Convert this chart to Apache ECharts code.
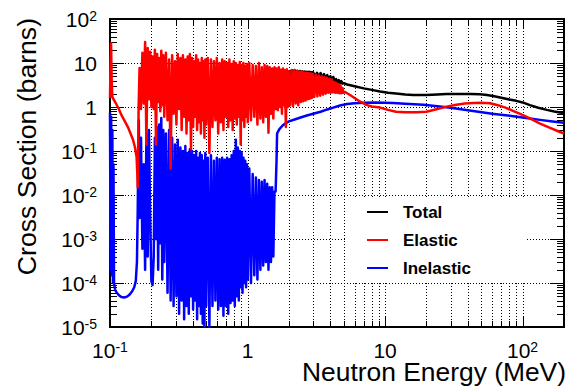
<!DOCTYPE html>
<html>
<head>
<meta charset="utf-8">
<script src="https://cdn.jsdelivr.net/npm/echarts@6/dist/echarts.min.js"></script>
<style>
  html, body { margin: 0; padding: 0; background: #fff; }
  #chart { width: 569px; height: 387px; }
</style>
</head>
<body>
<div id="chart"></div>
<script>
// Neutron cross sections, energy in MeV, cross section in barns.

// Elastic: threshold region below the first big resonances
const elasticLow = [
  [0.1, 1.6], [0.1008, 8], [0.1018, 28], [0.1028, 4], [0.104, 1.7], [0.106, 1.5],
  [0.109, 1.3], [0.115, 0.95], [0.121, 0.66], [0.128, 0.48], [0.135, 0.35],
  [0.141, 0.25], [0.147, 0.18], [0.152, 0.12], [0.156, 0.075], [0.158, 0.03],
  [0.159, 0.015], [0.1615, 1.0]
];

// Elastic: resolved resonance region
const elasticResonances = [
  [0.164, 7.7], [0.168, 0.9], [0.172, 17], [0.176, 1.2], [0.18, 30], [0.184, 0.14],
  [0.188, 22], [0.192, 1.5], [0.196, 18], [0.2, 1.0], [0.204, 14], [0.208, 0.9],
  [0.212, 20], [0.216, 0.14], [0.22, 16], [0.224, 1.3], [0.228, 13], [0.232, 0.8],
  [0.236, 19], [0.24, 1.1], [0.244, 15], [0.248, 0.6],
  [0.255, 17], [0.262, 0.5], [0.269, 12], [0.276, 0.04], [0.283, 15], [0.29, 0.7],
  [0.297, 11], [0.304, 0.4], [0.311, 16], [0.318, 0.9], [0.325, 13], [0.332, 0.3],
  [0.339, 15], [0.346, 0.6], [0.353, 12], [0.36, 0.25], [0.367, 14], [0.374, 0.5],
  [0.381, 16], [0.388, 0.11], [0.395, 13], [0.402, 0.35], [0.409, 11], [0.416, 0.6],
  [0.423, 15], [0.43, 0.3], [0.437, 12], [0.444, 0.45], [0.451, 10], [0.458, 0.25],
  [0.465, 13], [0.472, 0.5], [0.479, 11], [0.486, 0.2], [0.493, 12], [0.5, 0.4],
  [0.514, 13], [0.528, 0.09], [0.542, 12], [0.556, 0.35], [0.57, 11], [0.584, 0.5],
  [0.598, 13], [0.612, 0.25], [0.626, 10], [0.64, 0.45], [0.654, 12], [0.668, 0.3],
  [0.682, 11], [0.696, 0.6], [0.71, 10], [0.724, 0.35], [0.738, 12], [0.752, 0.5],
  [0.766, 9.5], [0.78, 0.3], [0.794, 11], [0.808, 0.55], [0.822, 10], [0.836, 0.4],
  [0.85, 9], [0.864, 0.6], [0.878, 10.5], [0.892, 0.14], [0.906, 9], [0.92, 0.5],
  [0.934, 10], [0.948, 0.35], [0.962, 8.5], [0.976, 0.6], [0.99, 9.5], [1.004, 0.45],
  [1.03, 10], [1.06, 0.5], [1.09, 9], [1.12, 0.6], [1.15, 8.5], [1.18, 0.4],
  [1.21, 10], [1.24, 0.55], [1.27, 8], [1.3, 0.45], [1.33, 9], [1.36, 0.6],
  [1.39, 8.5], [1.42, 0.26], [1.45, 8], [1.48, 0.7], [1.51, 7.5], [1.54, 0.55],
  [1.57, 8], [1.6, 0.9],
  [1.63, 7.5], [1.66, 0.85], [1.69, 8], [1.72, 1.0], [1.75, 7], [1.78, 0.7],
  [1.81, 7.5], [1.84, 1.1], [1.87, 6.8], [1.9, 0.35], [1.93, 7.2], [1.96, 1.0],
  [1.99, 6.5],
  [2.04, 1.1], [2.09, 6.8], [2.14, 1.05], [2.19, 6.9], [2.24, 1.2], [2.29, 6.5],
  [2.34, 1.1], [2.39, 6.4], [2.44, 1.3], [2.49, 6.3], [2.54, 1.35], [2.59, 6.1],
  [2.64, 1.4], [2.69, 6.0], [2.74, 1.5], [2.79, 5.9], [2.84, 1.55], [2.89, 5.8],
  [2.94, 1.6], [2.99, 5.6],
  [3.06, 1.7], [3.14, 5.4], [3.22, 1.75], [3.3, 5.2], [3.38, 1.8], [3.46, 5.0],
  [3.54, 1.9], [3.62, 4.8], [3.7, 2.0], [3.78, 4.6], [3.86, 2.1], [3.94, 4.4],
  [4.02, 2.1], [4.1, 4.2], [4.18, 2.15], [4.26, 3.7], [4.34, 2.1], [4.42, 3.5],
  [4.5, 2.1], [4.58, 3.3], [4.66, 2.05], [4.74, 3.1], [4.82, 2.05], [4.9, 2.7],
  [4.98, 2.1]
];

// Elastic: continuum
const elasticHigh = [
  [5.1, 2.2], [5.3, 2.05], [5.6, 1.85], [6.0, 1.6], [6.6, 1.32], [7.3, 1.12],
  [8.0, 1.03], [9.2, 0.97], [10.5, 0.86], [12, 0.78], [14, 0.76], [17, 0.76],
  [20, 0.78], [24, 0.9], [28, 1.02], [33, 1.13], [38, 1.2], [44, 1.24], [50, 1.25],
  [58, 1.22], [66, 1.1], [75, 0.97], [85, 0.82], [96, 0.7], [113, 0.55],
  [134, 0.42], [160, 0.33], [187, 0.27], [200, 0.25]
];

// Inelastic: below the first resonances
const inelasticLow = [
  [0.1, 0.75], [0.101, 0.0002], [0.102, 0.6], [0.103, 0.00015], [0.104, 0.3],
  [0.105, 0.0001], [0.106, 0.05], [0.107, 0.0001], [0.109, 0.00007], [0.112, 0.00006],
  [0.116, 0.000053], [0.121, 0.000048], [0.127, 0.000047], [0.133, 0.000049],
  [0.139, 0.000055], [0.145, 0.000065], [0.15, 0.00008], [0.154, 0.00011],
  [0.157, 0.0003], [0.159, 0.004], [0.1605, 0.08], [0.162, 0.5]
];

// Inelastic: resonance region
const inelasticResonances = [
  [0.164, 0.003], [0.168, 0.2], [0.172, 0.0006], [0.176, 0.05], [0.18, 0.0002],
  [0.184, 0.25], [0.188, 0.0004], [0.192, 0.3], [0.196, 0.003], [0.2, 0.00011],
  [0.204, 0.00009], [0.208, 0.0004], [0.212, 0.2], [0.216, 0.001], [0.22, 0.35],
  [0.224, 0.0002], [0.228, 0.4], [0.232, 0.0008], [0.236, 0.56], [0.24, 0.00012],
  [0.244, 0.3], [0.248, 0.0003],
  [0.255, 0.25], [0.262, 0.00006], [0.269, 0.3], [0.276, 0.00004], [0.283, 0.2],
  [0.29, 0.00003], [0.297, 0.14], [0.304, 0.00005], [0.311, 0.18], [0.318, 0.00002],
  [0.325, 0.12], [0.332, 0.00004], [0.339, 0.1], [0.346, 0.000015], [0.353, 0.13],
  [0.36, 0.00003], [0.367, 0.09], [0.374, 0.00002], [0.381, 0.11], [0.388, 0.00005],
  [0.395, 0.1], [0.402, 0.000025], [0.409, 0.08], [0.416, 0.00004], [0.423, 0.1],
  [0.43, 0.000015], [0.437, 0.07], [0.444, 0.00003], [0.451, 0.09], [0.458, 0.00002],
  [0.465, 0.08], [0.472, 0.000012], [0.479, 0.06], [0.486, 0.00001], [0.493, 0.09],
  [0.5, 0.00003],
  [0.514, 0.07], [0.528, 0.00001], [0.542, 0.08], [0.556, 0.00003], [0.57, 0.06],
  [0.584, 0.00004], [0.598, 0.07], [0.612, 0.000025], [0.626, 0.065], [0.64, 0.00003],
  [0.654, 0.07], [0.668, 0.000018], [0.682, 0.063], [0.696, 0.00003], [0.71, 0.07],
  [0.724, 0.00002], [0.738, 0.065], [0.752, 0.000035], [0.766, 0.08], [0.78, 0.00004],
  [0.794, 0.1], [0.808, 0.00003], [0.822, 0.18], [0.836, 0.00005], [0.85, 0.12],
  [0.864, 0.00004], [0.878, 0.1], [0.892, 0.00008], [0.906, 0.09], [0.92, 0.00006],
  [0.934, 0.07], [0.948, 0.0001], [0.962, 0.06], [0.976, 0.00008], [0.99, 0.05],
  [1.004, 0.00012],
  [1.03, 0.04], [1.06, 0.0001], [1.09, 0.03], [1.12, 0.00015], [1.15, 0.025],
  [1.18, 0.00012], [1.21, 0.022], [1.24, 0.0002], [1.27, 0.02], [1.3, 0.00025],
  [1.33, 0.022], [1.36, 0.0003], [1.39, 0.018], [1.42, 0.0002], [1.45, 0.015],
  [1.48, 0.0003], [1.51, 0.015], [1.54, 0.0004], [1.57, 0.012]
];

// Inelastic: above threshold of the first excited level
const inelasticHigh = [
  [1.6, 0.012], [1.625, 0.06], [1.64, 0.25], [1.7, 0.31], [1.8, 0.38], [1.9, 0.43],
  [2.0, 0.47], [2.2, 0.52], [2.4, 0.57], [2.7, 0.64], [3.0, 0.7], [3.4, 0.78],
  [3.8, 0.88], [4.2, 0.97], [4.7, 1.08], [5.3, 1.17], [6.0, 1.22], [7.0, 1.25],
  [8.5, 1.26], [10, 1.25], [11.4, 1.23], [14, 1.19], [19, 1.12], [25, 1.03],
  [30, 0.96], [40, 0.84], [49, 0.77], [60, 0.7], [75, 0.65], [91, 0.6],
  [113, 0.55], [134, 0.51], [165, 0.47], [200, 0.44]
];

// Total: where it rises above the elastic curve
const totalHigh = [
  [2.0, 6.8], [2.05, 5.2], [2.1, 6.9], [2.15, 5.3], [2.2, 6.9], [2.25, 5.2],
  [2.3, 6.7], [2.35, 5.1], [2.4, 6.6], [2.45, 5.0], [2.5, 6.5], [2.55, 5.0],
  [2.6, 6.4], [2.65, 4.9], [2.7, 6.3], [2.75, 4.9], [2.8, 6.3], [2.85, 4.8],
  [2.9, 6.2], [2.95, 4.8], [3.0, 6.2], [3.1, 4.9], [3.2, 6.0], [3.3, 4.8],
  [3.4, 5.9], [3.5, 4.6], [3.6, 5.6], [3.7, 4.4], [3.8, 5.3], [3.9, 4.2],
  [4.0, 5.0], [4.1, 4.0], [4.2, 4.8], [4.3, 3.9], [4.4, 4.3], [4.5, 3.6],
  [4.6, 4.1], [4.7, 3.5], [4.8, 3.9], [4.9, 3.4], [5.0, 3.5],
  [5.3, 3.25], [6.0, 2.95], [7.0, 2.65], [8.0, 2.45], [9.2, 2.25], [10.5, 2.12],
  [12, 2.02], [14, 1.93], [16, 1.88], [20, 1.88], [24, 1.93], [28, 1.97],
  [35, 1.98], [42, 1.98], [49, 1.96], [55, 1.88], [61, 1.78], [70, 1.62],
  [80, 1.48], [90, 1.38], [100, 1.27], [113, 1.1], [130, 0.96], [150, 0.86],
  [170, 0.79], [187, 0.75], [200, 0.73]
];

// Axis ticks: decades and the 2..9 steps inside each decade
const xDecades = [0.1, 1, 10, 100];
const yDecades = [1e-5, 1e-4, 1e-3, 1e-2, 0.1, 1, 10, 100];
const decadeSteps = [2, 3, 4, 5, 6, 7, 8, 9];
const xRange = [0.1, 200];
const yRange = [1e-5, 100];

const FONT = 'Liberation Sans, Arial, Helvetica, sans-serif';

function buildTicks(decades, range) {
  const items = [];
  decades.forEach(function (d) {
    items.push([d, 1]);
    decadeSteps.forEach(function (s) {
      const v = d * s;
      if (v > range[0] && v < range[1]) items.push([v, 0]);
    });
  });
  return items;
}

const xTickItems = buildTicks(xDecades, xRange).map(function (t) { return [t[0], 1, t[1]]; });
const yTickItems = buildTicks(yDecades, yRange).map(function (t) { return [1, t[0], t[1]]; });

function powerLabel(v) {
  const e = Math.log10(v);
  const r = Math.round(e);
  if (Math.abs(e - r) > 1e-6) return '';
  if (r === 0) return '{b|1}';
  if (r === 1) return '{b|10}';
  return '{b|10}{s|' + r + '}';
}

const labelRich = {
  b: { fontSize: 21, fontFamily: FONT, color: '#000', lineHeight: 20 },
  s: { fontSize: 14, fontFamily: FONT, color: '#000', lineHeight: 12, verticalAlign: 'top' }
};

const dotted = { stroke: '#000', lineWidth: 1, lineDash: [1, 2] };
const solid = { stroke: '#000', lineWidth: 1 };

function renderXTicks(params, api) {
  const cs = params.coordSys;
  const x = Math.round(api.coord([api.value(0), 1])[0]) + 0.5;
  const len = api.value(2) === 1 ? 10 : 6;
  const top = cs.y, bottom = cs.y + cs.height;
  const children = [];
  if (x > cs.x + 2 && x < cs.x + cs.width - 2) {
    children.push({ type: 'line', shape: { x1: x, y1: top, x2: x, y2: bottom }, style: dotted });
  }
  children.push({ type: 'line', shape: { x1: x, y1: bottom, x2: x, y2: bottom - len }, style: solid });
  children.push({ type: 'line', shape: { x1: x, y1: top, x2: x, y2: top + len }, style: solid });
  return { type: 'group', children: children };
}

function renderYTicks(params, api) {
  const cs = params.coordSys;
  const y = Math.round(api.coord([1, api.value(1)])[1]) + 0.5;
  const major = api.value(2) === 1;
  const len = major ? 14 : 7;
  const left = cs.x, right = cs.x + cs.width;
  const children = [];
  if (major && y > cs.y + 2 && y < cs.y + cs.height - 2) {
    children.push({ type: 'line', shape: { x1: left, y1: y, x2: right, y2: y }, style: dotted });
  }
  children.push({ type: 'line', shape: { x1: left, y1: y, x2: left + len, y2: y }, style: solid });
  children.push({ type: 'line', shape: { x1: right, y1: y, x2: right - len, y2: y }, style: solid });
  return { type: 'group', children: children };
}

function curve(name, color, data) {
  return {
    name: name,
    type: 'line',
    data: data,
    showSymbol: false,
    symbol: 'none',
    clip: true,
    z: 3,
    itemStyle: { color: color },
    lineStyle: { color: color, width: 2.5, join: 'round' },
    emphasis: { disabled: true }
  };
}

const chart = echarts.init(document.getElementById('chart'), null, { renderer: 'svg' });

chart.setOption({
  animation: false,
  backgroundColor: '#fff',
  grid: {
    left: 110, right: 5, top: 19, bottom: 60,
    show: true, borderColor: '#000', borderWidth: 2, backgroundColor: 'transparent'
  },
  xAxis: {
    type: 'log', logBase: 10, min: xRange[0], max: xRange[1],
    axisLine: { show: false }, axisTick: { show: false }, splitLine: { show: false },
    axisLabel: { formatter: powerLabel, margin: 13, rich: labelRich, showMaxLabel: false }
  },
  yAxis: {
    type: 'log', logBase: 10, min: yRange[0], max: yRange[1],
    axisLine: { show: false }, axisTick: { show: false }, splitLine: { show: false },
    axisLabel: { formatter: powerLabel, margin: 13, rich: labelRich }
  },
  legend: {
    data: ['Total', 'Elastic', 'Inelastic'],
    orient: 'vertical', left: 347, top: 199,
    backgroundColor: '#fff',
    padding: [3, 55, 3, 20],
    itemWidth: 21, itemHeight: 2, itemGap: 8,
    icon: 'rect',
    selectedMode: false,
    textStyle: { fontFamily: FONT, fontSize: 17, fontWeight: 'bold', color: '#000', lineHeight: 20, padding: [0, 0, 0, 10] }
  },
  graphic: [
    {
      type: 'text', x: 27, y: 18, rotation: Math.PI / 2,
      style: { text: 'Cross Section (barns)', fontSize: 26.6, fontFamily: FONT, fill: '#000', align: 'right', verticalAlign: 'middle' }
    },
    {
      type: 'text', x: 566, y: 371.5,
      style: { text: 'Neutron Energy (MeV)', fontSize: 26.4, lineHeight: 20, fontFamily: FONT, fill: '#000', align: 'right', verticalAlign: 'middle' }
    }
  ],
  series: [
    {
      type: 'custom', name: 'xTicks', data: xTickItems, renderItem: renderXTicks,
      encode: { x: 0, y: 1 }, silent: true, z: 1, clip: false
    },
    {
      type: 'custom', name: 'yTicks', data: yTickItems, renderItem: renderYTicks,
      encode: { x: 0, y: 1 }, silent: true, z: 1, clip: false
    },
    curve('Total', '#000000', totalHigh),
    curve('Inelastic', '#0000ff', inelasticLow.concat(inelasticResonances, inelasticHigh)),
    curve('Elastic', '#ff0000', elasticLow.concat(elasticResonances, elasticHigh))
  ]
});
</script>
</body>
</html>
